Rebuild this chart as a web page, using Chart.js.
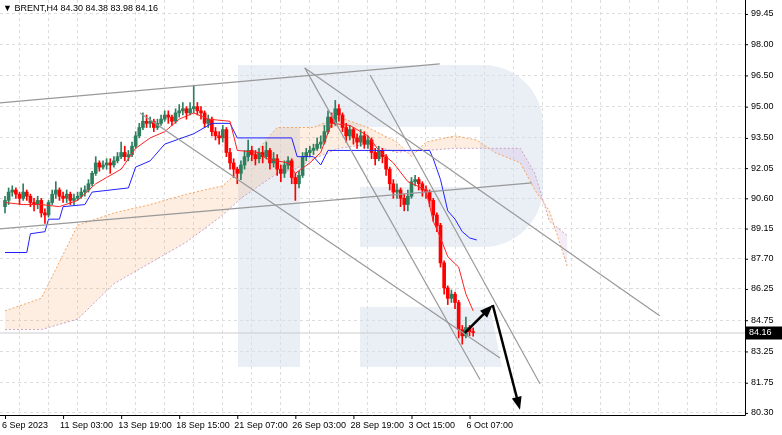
<!DOCTYPE html>
<html><head><meta charset="utf-8">
<script src="https://cdn.jsdelivr.net/npm/chart.js@4.4.1/dist/chart.umd.min.js"></script>
<style>html,body{margin:0;padding:0;background:#fff}#wrap{width:782px;height:435px}</style>
</head><body><div id="wrap"><canvas id="c" width="782" height="435"></canvas></div>
<script>
const closes=[90.5,90.9,91.0,90.8,90.6,90.9,90.7,90.4,90.3,90.5,
89.9,89.8,90.4,90.8,91.0,90.7,90.6,90.8,90.5,90.6,
90.7,90.9,91.0,91.3,91.8,92.3,92.1,92.2,92.3,92.2,
92.4,92.6,92.8,92.6,92.7,93.1,93.6,94.0,94.3,94.2,
94.3,94.0,94.2,94.4,94.6,94.5,94.3,94.7,94.8,94.9,
94.7,94.9,95.0,94.8,94.7,94.2,94.4,93.8,93.6,93.5,
93.9,92.8,92.3,92.0,91.8,92.2,92.6,92.9,92.7,92.5,
92.8,92.6,92.9,92.3,92.5,92.0,91.8,92.2,92.4,91.6,
91.3,91.7,92.6,92.8,92.9,93.0,93.2,93.3,93.8,94.5,
94.2,94.9,94.6,94.0,93.6,93.9,93.5,93.3,93.6,93.2,
93.4,92.8,92.5,92.9,92.6,92.0,91.3,90.9,91.0,90.6,
90.3,90.7,91.4,91.5,91.3,91.0,90.9,90.5,89.8,89.3,
87.5,86.3,85.8,86.0,85.6,84.3,84.0,84.4,84.2,84.16];
const firstOpen=90.2;
const highs=[90.7,91.1,91.2,91.1,90.9,91.3,91.0,90.8,90.6,90.7,
90.6,90.1,90.5,91.0,91.4,91.1,90.9,91.0,90.9,90.8,
90.9,91.1,91.2,91.5,91.9,92.6,92.4,92.4,92.5,92.5,
92.6,92.8,93.3,93.1,92.9,93.3,93.8,94.2,94.7,94.6,
94.5,94.4,94.4,94.6,94.8,94.8,94.6,94.9,95.1,95.2,
95.0,95.2,96.0,95.2,95.0,94.8,94.6,94.5,94.0,93.8,
94.1,94.0,93.0,92.5,92.1,92.4,92.9,93.4,93.1,92.9,
93.0,93.1,93.3,93.0,92.8,92.7,92.2,92.4,92.6,92.5,
91.8,91.9,92.8,93.0,93.1,93.2,93.5,93.6,94.1,94.8,
94.7,95.3,95.1,94.7,94.2,94.1,94.0,93.7,93.9,93.8,
93.6,93.5,93.0,93.1,93.0,92.7,92.1,91.5,91.3,91.1,
90.8,91.0,91.6,91.7,91.6,91.4,91.2,91.0,90.6,89.9,
89.4,87.6,86.4,86.2,86.1,85.7,84.5,84.9,84.5,84.38];
const lows=[89.9,90.3,90.7,90.6,90.3,90.5,90.5,90.2,90.0,90.1,
89.7,89.4,89.7,90.3,90.6,90.5,90.4,90.4,90.3,90.3,
90.5,90.6,90.7,90.9,91.2,91.7,91.9,92.0,92.0,91.8,
92.1,92.3,92.5,92.4,92.4,92.6,93.0,93.5,93.9,94.0,
94.0,93.8,93.9,94.1,94.3,94.2,94.1,94.2,94.5,94.6,
94.4,94.6,94.7,94.6,94.4,94.0,94.0,93.6,93.4,93.2,
93.3,92.6,92.0,91.6,91.3,91.5,92.0,92.4,92.4,92.2,
92.3,92.3,92.5,92.0,92.1,91.7,91.4,91.6,92.0,91.3,
90.5,91.1,91.6,92.4,92.6,92.7,92.9,93.0,93.2,93.7,
94.0,94.1,94.3,93.8,93.3,93.4,93.2,93.0,93.1,93.0,
93.0,92.5,92.2,92.4,92.3,91.7,91.0,90.6,90.6,90.2,
90.0,90.0,90.6,91.2,91.0,90.7,90.6,90.2,89.5,89.0,
87.3,86.0,85.5,85.6,85.3,83.9,83.6,83.9,84.0,83.98];
const tenkanIdx=[0,5,10,15,20,25,28,32,36,40,44,48,52,56,62,64,70,72,78,80,84,87,90,95,100,103,107,111,116,118,120,122,125,127,129];
const tenkanVal=[90.4,90.3,90.3,90.2,90.5,91.3,91.6,92.0,93.0,93.5,93.8,94.4,94.7,94.4,94.3,92.9,92.8,92.5,92.3,91.8,92.3,92.8,94.2,94.1,93.6,92.9,92.3,91.4,91.0,89.5,88.7,87.8,87.3,86.0,85.2];
const kijunIdx=[0,6,7,11,12,15,16,22,24,34,36,40,44,52,57,62,64,79,80.5,85,87,89,117,118,120,122,124,126,128,130];
const kijunVal=[88.0,88.0,88.9,89.0,89.6,89.6,90.2,90.3,90.9,91.1,92.1,92.4,93.2,93.7,94.2,94.2,93.5,93.5,92.6,92.6,92.2,92.9,92.9,92.5,91.5,90.0,89.6,89.0,88.7,88.6];
const cloudIdx=[0,10,20,30,40,50,60,65,75,80,85,92,100,108,112,116,124,130,135,142,146,150,155];
const spanA=[85.2,85.8,89.3,89.9,90.3,90.8,91.2,92.0,94.0,94.0,94.0,94.5,94.0,93.3,92.6,93.3,93.6,93.4,92.8,92.3,91.0,90.0,87.3];
const spanB=[84.3,84.3,84.8,86.5,87.5,88.5,89.8,90.6,91.8,92.0,92.5,93.0,93.2,92.8,92.9,92.9,93.0,93.0,93.0,93.0,91.8,89.5,88.8];
const yTicks=[99.45,98.00,96.50,95.00,93.50,92.05,90.60,89.15,87.70,86.25,84.75,83.25,81.75,80.30];
const xLabelIdx=[0,16,32,48,64,80,96,112,128];
const xLabels=["6 Sep 2023","11 Sep 03:00","13 Sep 19:00","18 Sep 15:00","21 Sep 07:00","26 Sep 03:00","28 Sep 19:00","3 Oct 15:00","6 Oct 07:00"];
const trendLines=[[[-1.38,95.18],[119.8,97.05]],[[-1.38,89.13],[145.2,91.34]],[[37.2,94.70],[136.4,82.94]],[[82.6,96.86],[130.9,81.89]],[[82.6,96.86],[180.4,84.96]],[[100.6,96.52],[147.4,81.7]]];
const arrows=[[[126.7,84.14],[134.4,85.48]],[[134.4,85.48],[141.9,80.45]]];
const lastPrice=84.16;
const header="▼ BRENT,H4 84.30 84.38 83.98 84.16";

const opens=closes.map((c,i)=>i===0?firstOpen:closes[i-1]);
const UP='#2f7f5f',DN='#ff0000';
const cols=closes.map((c,i)=>c>=opens[i]?UP:DN);
const ctx=document.getElementById('c').getContext('2d');
const ORF='rgba(245,160,90,0.18)',PUF='rgba(200,160,215,0.2)';
const datasets=[
{type:'bar',data:closes.map((c,i)=>({x:i,y:[lows[i],highs[i]]})),backgroundColor:cols,barThickness:1,grouped:false,order:5},
{type:'bar',data:closes.map((c,i)=>({x:i,y:[opens[i],c===opens[i]?c+0.02:c]})),backgroundColor:cols,barThickness:3,grouped:false,order:4},
{type:'line',data:cloudIdx.map((x,i)=>({x,y:spanA[i]})),borderColor:'#f4a460',borderWidth:1,borderDash:[2,2],pointRadius:0,fill:{target:'+1',above:ORF,below:PUF},backgroundColor:ORF,order:8},
{type:'line',data:cloudIdx.map((x,i)=>({x,y:spanB[i]})),borderColor:'#c8a2c8',borderWidth:1,borderDash:[2,2],pointRadius:0,fill:false,order:8},
{type:'line',data:tenkanIdx.map((x,i)=>({x,y:tenkanVal[i]})),borderColor:'#ff2020',borderWidth:1,pointRadius:0,order:3},
{type:'line',data:kijunIdx.map((x,i)=>({x,y:kijunVal[i]})),borderColor:'#2020ff',borderWidth:1,pointRadius:0,order:3},
...trendLines.map(l=>({type:'line',data:l.map(p=>({x:p[0],y:p[1]})),borderColor:'#999',borderWidth:1.2,pointRadius:0,order:2}))
];
const deco={id:'deco',
beforeDatasetsDraw(ch){const c=ch.ctx;c.save();c.fillStyle='rgba(214,223,238,0.5)';
 c.fillRect(238,65,62,302);
 c.beginPath();c.moveTo(300,65);c.lineTo(483,65);c.arcTo(543,65,543,125,60);c.lineTo(543,187);c.arcTo(543,247,483,247,60);c.lineTo(360,247);c.lineTo(360,187);c.lineTo(480,187);c.lineTo(480,127);c.lineTo(300,127);c.closePath();c.fill();
 c.beginPath();c.moveTo(360,307);c.lineTo(490,307);c.lineTo(502,367);c.lineTo(360,367);c.closePath();c.fill();
 const y=ch.scales.y.getPixelForValue(lastPrice);c.strokeStyle='#ccc';c.lineWidth=1;c.beginPath();c.moveTo(ch.chartArea.left,y+0.5);c.lineTo(ch.chartArea.right,y+0.5);c.stroke();
 c.restore();},
afterDraw(ch){const c=ch.ctx,xs=ch.scales.x,ys=ch.scales.y,a=ch.chartArea;c.save();
 c.strokeStyle='#000';c.fillStyle='#000';c.lineWidth=2.5;
 arrows.forEach(ar=>{const x1=xs.getPixelForValue(ar[0][0]),y1=ys.getPixelForValue(ar[0][1]),x2=xs.getPixelForValue(ar[1][0]),y2=ys.getPixelForValue(ar[1][1]);
  const ang=Math.atan2(y2-y1,x2-x1);c.beginPath();c.moveTo(x1,y1);c.lineTo(x2-8*Math.cos(ang),y2-8*Math.sin(ang));c.stroke();
  c.beginPath();c.moveTo(x2,y2);c.lineTo(x2-13*Math.cos(ang)+5*Math.sin(ang),y2-13*Math.sin(ang)-5*Math.cos(ang));c.lineTo(x2-13*Math.cos(ang)-5*Math.sin(ang),y2-13*Math.sin(ang)+5*Math.cos(ang));c.closePath();c.fill();});
 c.lineWidth=1;c.strokeStyle='#000';c.beginPath();c.moveTo(a.right+0.5,a.top);c.lineTo(a.right+0.5,a.bottom+0.5);c.lineTo(a.left,a.bottom+0.5);c.stroke();
 c.font='9px "Liberation Sans", sans-serif';c.textBaseline='middle';c.textAlign='left';
 yTicks.forEach(t=>{const y=ys.getPixelForValue(t);c.beginPath();c.moveTo(a.right,y+0.5);c.lineTo(a.right+3,y+0.5);c.stroke();c.fillStyle='#000';c.fillText(t.toFixed(2),a.right+6,y);});
 const py=ys.getPixelForValue(lastPrice);c.fillStyle='#000';c.fillRect(a.right+1,py-6,37,13);c.fillStyle='#fff';c.fillText(lastPrice.toFixed(2),a.right+4,py+0.5);
 c.fillStyle='#000';c.textBaseline='top';
 xLabelIdx.forEach((ix,i)=>{const x=xs.getPixelForValue(ix);c.beginPath();c.moveTo(x+0.5,a.bottom);c.lineTo(x+0.5,a.bottom+4);c.stroke();c.fillText(xLabels[i],Math.max(x-3,1),a.bottom+6);});
 c.fillText(header,3,4);
 c.restore();}};
new Chart(ctx,{data:{datasets},plugins:[deco],options:{responsive:false,animation:false,devicePixelRatio:1,
 layout:{padding:0},
 plugins:{legend:{display:false},tooltip:{enabled:false}},
 scales:{
  x:{type:'linear',min:-1.38,max:203.9,offset:false,afterBuildTicks(s){const t=[];for(let v=0;v<=200;v+=8)t.push({value:v});s.ticks=t;},ticks:{display:false},grid:{color:'#ddd',drawTicks:false},border:{display:false,dash:[3,3]},afterFit(s){s.height=20;}},
  y:{type:'linear',position:'right',min:80.20,max:100.12,afterBuildTicks(s){s.ticks=yTicks.map(v=>({value:v}));},ticks:{display:false},grid:{color:'#ddd',drawTicks:false},border:{display:false,dash:[3,3]},afterFit(s){s.width=37;}}
 }}});
</script></body></html>
